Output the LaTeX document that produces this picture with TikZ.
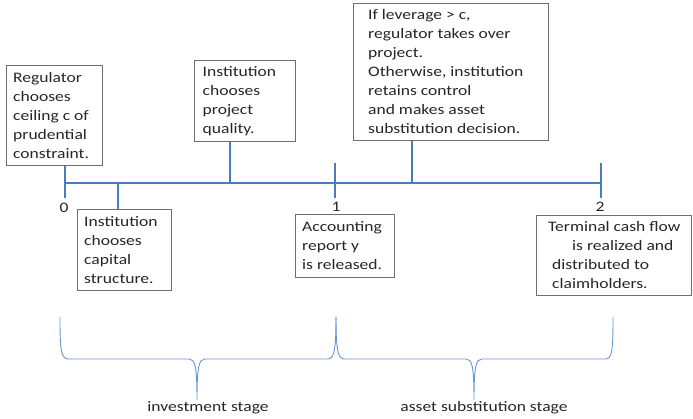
\documentclass[tikz,border=0pt]{standalone}
\usepackage{fontspec}
\setmainfont[FakeStretch=1.21]{Carlito}
\usetikzlibrary{calc}
\definecolor{axisblue}{HTML}{4A7EBB}
\definecolor{braceblue}{HTML}{6A95D2}
\definecolor{boxgray}{HTML}{6E6E6E}
\definecolor{ink}{HTML}{262626}
\begin{document}
\begin{tikzpicture}[x=1pt,y=-1pt,
  every node/.style={font=\fontsize{14.5}{19}\selectfont, text=ink},
  frame/.style={draw=boxgray, line width=1pt, anchor=north west, inner sep=0pt},
  boxtext/.style={anchor=west, align=left, inner sep=0pt},
  axis/.style={draw=axisblue, line width=2pt},
  stagebrace/.style={draw=braceblue, line width=0.9pt}]
\useasboundingbox (0,0) rectangle (693,419);

% event boxes
\node[frame, minimum width=96pt,  minimum height=100pt] (ceil)     at (6,65)   {};
\node[frame, minimum width=94pt,  minimum height=81pt]  (capital)  at (77,209) {};
\node[frame, minimum width=101pt, minimum height=81pt]  (quality)  at (194,60) {};
\node[frame, minimum width=99pt,  minimum height=63pt]  (account)  at (295,214) {};
\node[frame, minimum width=195pt, minimum height=137pt] (control)  at (353,3)  {};
\node[frame, minimum width=155pt, minimum height=80pt]  (terminal) at (536,215) {};

% box contents
\node[boxtext] (ceilT) at ($(ceil.west)+(7,0)$)
  {Regulator\\chooses\\ceiling c of\\prudential\\constraint.};
\node[boxtext] (capitalT) at ($(capital.west)+(7,0)$)
  {Institution\\chooses\\capital\\structure.};
\node[boxtext] (qualityT) at ($(quality.west)+(8.5,0)$)
  {Institution\\chooses\\project\\quality.};
\node[boxtext] (accountT) at ($(account.west)+(7,0)$)
  {Accounting\\report y\\is released.};
\node[boxtext] (controlT) at ($(control.west)+(15,0)$)
  {If leverage > c,\\regulator takes over\\project.\\Otherwise, institution\\retains control\\and makes asset\\substitution decision.};
\node[boxtext] (terminalT) at ($(terminal.west)+(12,0)$)
  {Terminal cash flow\\\hspace*{24pt}is realized and\\\hspace*{4pt}distributed to\\\hspace*{4pt}claimholders.};

% time line
\coordinate (t0) at (65,183);
\coordinate (t1) at (335,183);
\coordinate (t2) at (601,183);
\coordinate (s1) at (118,183);
\coordinate (s2) at (230,183);
\coordinate (s3) at (412,183);
\draw[axis] (t0) -- (t2);
\draw[axis] (t0 |- ceil.south) -- ($(t0)+(0,15)$);
\draw[axis] ($(t1)+(0,-20)$) -- ($(t1)+(0,15)$);
\draw[axis] ($(t2)+(0,-20)$) -- ($(t2)+(0,15)$);
\draw[axis] (s1) -- (s1 |- capital.north);
\draw[axis] (s2) -- (s2 |- quality.south);
\draw[axis] (s3) -- (s3 |- control.south);

% date labels
\node (d0) at (64,208)  {0};
\node (d1) at (336,207) {1};
\node (d2) at (600,207) {2};

% stage braces
\draw[stagebrace] (60,317) .. controls (60,352) and (61,359) .. (69,359)
  -- (189,359) .. controls (195,359) and (197,366) .. (197,400)
  .. controls (197,366) and (199,359) .. (205,359)
  -- (327,359) .. controls (334,359) and (336,352) .. (336,317);
\draw[stagebrace] (336,317) .. controls (336,352) and (338,359) .. (345,359)
  -- (466,359) .. controls (472,359) and (474,366) .. (474,400)
  .. controls (474,366) and (476,359) .. (482,359)
  -- (605,359) .. controls (612,359) and (613,352) .. (613,317);

\node (inv) at (208,408) {investment stage};
\node (sub) at (484,408) {asset substitution stage};
\end{tikzpicture}
\end{document}
